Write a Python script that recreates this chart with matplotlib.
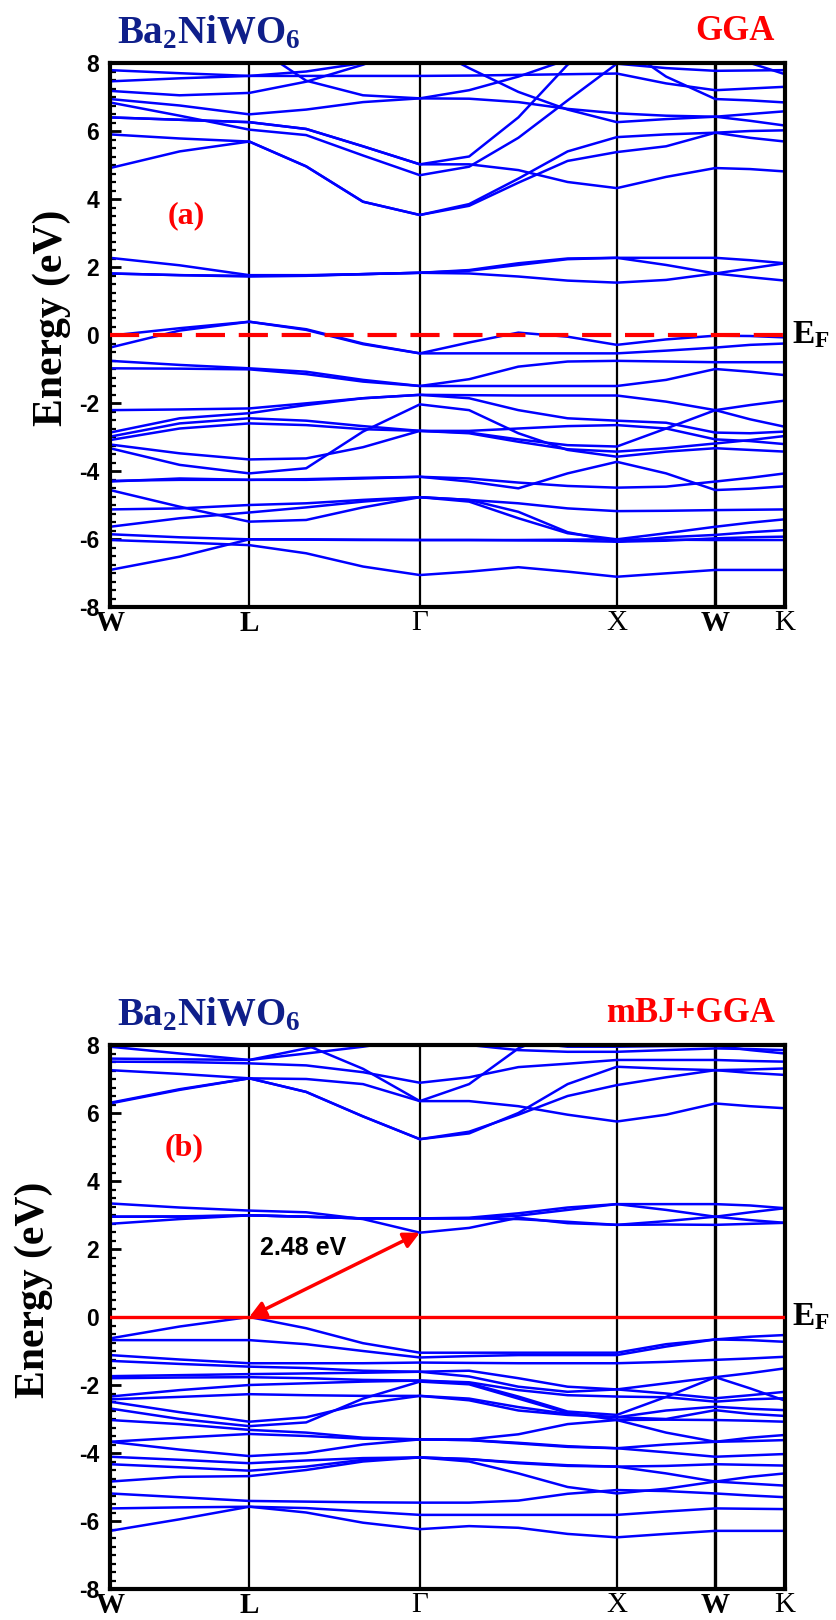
import matplotlib
matplotlib.use('Agg')
import matplotlib.pyplot as plt
from matplotlib.ticker import MultipleLocator

plt.rcParams['mathtext.fontset'] = 'custom'
plt.rcParams['mathtext.rm'] = 'Liberation Serif'
plt.rcParams['mathtext.it'] = 'Liberation Serif:italic'
plt.rcParams['mathtext.bf'] = 'Liberation Serif:bold'
plt.rcParams['axes.unicode_minus'] = False

# fcc path W - L - G - X - W - K, in units of 2pi/a
k_ticks = [0.0, 0.7071, 1.5731, 2.5731, 3.0731, 3.4267]
k_labels = ['W', 'L', 'Γ', 'X', 'W', 'K']
k_bold = [True, True, False, False, True, False]
# points along the path where the energies were sampled
k_nodes = [0.0, 0.3536, 0.7071, 0.9958, 1.2844, 1.5731, 1.8231, 2.0731,
           2.3231, 2.5731, 2.8231, 3.0731, 3.2499, 3.4267]

# ---- GGA bands (eV) ----
gga_vb = [
    [-0.02, 0.20, 0.39, 0.17, -0.25, -0.54, -0.22, 0.07, -0.05, -0.29, -0.13, -0.02, -0.03, -0.07],
    [-0.37, 0.13, 0.39, 0.15, -0.27, -0.54, -0.54, -0.54, -0.54, -0.54, -0.46, -0.37, -0.29, -0.25],
    [-0.76, -0.88, -0.98, -1.08, -1.32, -1.50, -1.30, -0.93, -0.78, -0.76, -0.78, -0.80, -0.80, -0.80],
    [-0.98, -0.99, -1.01, -1.15, -1.37, -1.50, -1.50, -1.50, -1.50, -1.50, -1.32, -1.00, -1.08, -1.18],
    [-2.21, -2.19, -2.16, -2.01, -1.86, -1.76, -1.77, -1.78, -1.78, -1.78, -1.96, -2.21, -2.48, -2.70],
    [-2.87, -2.45, -2.30, -2.06, -1.86, -1.76, -1.86, -2.21, -2.45, -2.52, -2.58, -2.87, -2.89, -2.84],
    [-2.99, -2.60, -2.45, -2.52, -2.68, -2.82, -2.82, -2.75, -2.68, -2.65, -2.75, -3.07, -3.12, -3.21],
    [-3.09, -2.75, -2.60, -2.65, -2.77, -2.82, -2.87, -3.07, -3.24, -3.28, -2.75, -2.21, -2.06, -1.93],
    [-3.22, -3.48, -3.66, -3.63, -3.30, -2.82, -2.89, -3.14, -3.36, -3.43, -3.33, -3.19, -3.09, -2.97],
    [-3.33, -3.82, -4.07, -3.92, -2.84, -2.04, -2.21, -2.89, -3.38, -3.58, -3.43, -3.33, -3.38, -3.43],
    [-4.29, -4.26, -4.26, -4.24, -4.20, -4.17, -4.22, -4.34, -4.44, -4.49, -4.46, -4.31, -4.20, -4.07],
    [-4.31, -4.22, -4.26, -4.26, -4.22, -4.17, -4.31, -4.51, -4.07, -3.73, -4.07, -4.56, -4.52, -4.45],
    [-4.56, -5.05, -5.49, -5.44, -5.07, -4.77, -4.85, -4.95, -5.10, -5.18, -5.17, -5.15, -5.14, -5.13],
    [-5.13, -5.10, -5.00, -4.95, -4.85, -4.77, -4.90, -5.39, -5.83, -6.01, -5.83, -5.64, -5.52, -5.42],
    [-5.64, -5.39, -5.22, -5.07, -4.90, -4.77, -4.85, -5.20, -5.80, -6.08, -5.95, -5.88, -5.80, -5.74],
    [-5.86, -5.95, -6.01, -6.01, -6.02, -6.03, -6.03, -6.03, -6.02, -6.01, -6.02, -6.03, -6.03, -6.03],
    [-6.91, -6.52, -6.01, -6.02, -6.03, -6.03, -6.03, -6.04, -6.05, -6.08, -6.05, -5.98, -5.95, -5.93],
    [-6.03, -6.10, -6.18, -6.42, -6.81, -7.06, -6.96, -6.83, -6.96, -7.11, -7.01, -6.91, -6.91, -6.91],
]
gga_cb_low = [
    [2.27, 2.05, 1.76, 1.76, 1.79, 1.83, 1.91, 2.11, 2.25, 2.27, 2.27, 2.27, 2.20, 2.11],
    [1.81, 1.76, 1.72, 1.74, 1.79, 1.83, 1.81, 1.72, 1.60, 1.54, 1.62, 1.81, 1.96, 2.11],
    [1.81, 1.76, 1.74, 1.75, 1.79, 1.83, 1.89, 2.06, 2.23, 2.27, 2.06, 1.81, 1.70, 1.60],
]
gga_cb_high = [
    [4.91, 5.40, 5.69, 4.96, 3.92, 3.53, 3.80, 4.48, 5.12, 5.38, 5.55, 5.95, 5.80, 5.69],
    [5.90, 5.78, 5.69, 4.96, 3.92, 3.53, 3.85, 4.60, 5.40, 5.82, 5.90, 5.95, 6.00, 6.02],
    [6.40, 6.33, 6.26, 6.06, 5.55, 5.02, 5.02, 4.85, 4.50, 4.32, 4.65, 4.91, 4.88, 4.81],
    [6.84, 6.45, 6.04, 5.88, 5.28, 4.70, 4.95, 5.80, 6.90, 7.98, 7.85, 7.77, 7.78, 7.79],
    [6.94, 6.75, 6.49, 6.63, 6.85, 6.96, 6.95, 6.85, 6.65, 6.52, 6.45, 6.42, 6.50, 6.58],
    [7.18, 7.05, 7.12, 7.45, 7.95, 8.60, 7.85, 7.15, 6.63, 6.26, 6.35, 6.42, 6.30, 6.16],
    [7.46, 7.55, 7.62, 7.62, 7.62, 7.62, 7.63, 7.65, 7.67, 7.69, 7.40, 7.20, 7.25, 7.30],
    [7.79, 7.70, 7.62, 7.75, 8.00, 8.20, 8.30, 8.50, 8.70, 8.80, 8.50, 8.20, 8.00, 7.67],
    [8.30, 8.50, 8.60, 7.48, 7.05, 6.96, 7.20, 7.60, 8.10, 8.60, 7.60, 6.94, 6.90, 6.84],
    [6.40, 6.33, 6.26, 6.06, 5.55, 5.02, 5.25, 6.40, 7.95, 8.80, 8.60, 8.30, 8.20, 8.30],
]

# ---- mBJ+GGA bands (eV) ----
mbj_vb = [
    [-0.63, -0.28, 0.00, -0.33, -0.77, -1.05, -1.05, -1.05, -1.05, -1.05, -0.80, -0.66, -0.58, -0.53],
    [-0.68, -0.68, -0.68, -0.80, -1.00, -1.19, -1.15, -1.12, -1.12, -1.12, -0.87, -0.66, -0.68, -0.73],
    [-1.12, -1.25, -1.36, -1.36, -1.36, -1.34, -1.35, -1.36, -1.36, -1.36, -1.32, -1.26, -1.22, -1.17],
    [-1.29, -1.38, -1.46, -1.50, -1.58, -1.61, -1.58, -1.80, -2.05, -2.13, -1.95, -1.77, -1.65, -1.51],
    [-1.74, -1.71, -1.68, -1.66, -1.64, -1.61, -1.75, -2.05, -2.20, -2.13, -2.25, -2.39, -2.30, -2.20],
    [-1.80, -1.78, -1.77, -1.80, -1.85, -1.87, -1.95, -2.34, -2.78, -2.88, -2.35, -1.77, -2.10, -2.46],
    [-2.34, -2.15, -2.00, -1.95, -1.90, -1.87, -1.92, -2.15, -2.30, -2.34, -2.36, -2.49, -2.42, -2.39],
    [-2.42, -2.35, -2.27, -2.30, -2.32, -2.32, -2.45, -2.75, -2.88, -2.95, -2.75, -2.64, -2.70, -2.74],
    [-2.49, -2.80, -3.08, -2.95, -2.55, -2.32, -2.40, -2.65, -2.85, -2.95, -3.00, -2.74, -2.85, -2.91],
    [-2.69, -3.00, -3.21, -3.10, -2.40, -1.90, -1.98, -2.40, -2.82, -3.03, -3.40, -3.67, -3.65, -3.62],
    [-3.03, -3.15, -3.32, -3.40, -3.55, -3.60, -3.60, -3.45, -3.15, -3.03, -3.02, -3.03, -3.05, -3.08],
    [-3.67, -3.55, -3.44, -3.50, -3.58, -3.60, -3.62, -3.70, -3.80, -3.86, -3.75, -3.67, -3.55, -3.47],
    [-3.67, -3.90, -4.09, -4.00, -3.75, -3.60, -3.62, -3.72, -3.82, -3.86, -3.98, -4.11, -4.07, -4.03],
    [-4.11, -4.20, -4.30, -4.22, -4.15, -4.13, -4.18, -4.30, -4.38, -4.40, -4.38, -4.33, -4.35, -4.37],
    [-4.33, -4.42, -4.52, -4.40, -4.20, -4.13, -4.25, -4.60, -5.00, -5.19, -5.05, -4.84, -4.70, -4.60],
    [-4.84, -4.70, -4.68, -4.50, -4.25, -4.13, -4.18, -4.28, -4.36, -4.40, -4.60, -4.84, -4.90, -4.96],
    [-5.19, -5.30, -5.41, -5.43, -5.45, -5.46, -5.46, -5.40, -5.20, -5.09, -5.12, -5.19, -5.25, -5.30],
    [-5.63, -5.60, -5.58, -5.62, -5.72, -5.82, -5.82, -5.82, -5.82, -5.82, -5.72, -5.63, -5.64, -5.65],
    [-6.29, -5.95, -5.58, -5.75, -6.05, -6.24, -6.15, -6.20, -6.38, -6.48, -6.38, -6.29, -6.29, -6.29],
]
mbj_cb_low = [
    [3.34, 3.22, 3.13, 3.08, 2.88, 2.48, 2.62, 2.92, 2.76, 2.71, 2.72, 2.71, 2.74, 2.77],
    [2.95, 2.95, 2.99, 2.95, 2.90, 2.90, 2.92, 3.05, 3.22, 3.32, 3.32, 3.32, 3.28, 3.20],
    [2.74, 2.88, 2.99, 2.95, 2.90, 2.90, 2.90, 2.88, 2.80, 2.71, 2.82, 2.95, 3.08, 3.20],
    [2.95, 2.96, 2.99, 2.95, 2.90, 2.90, 2.90, 2.98, 3.15, 3.32, 3.15, 2.95, 2.85, 2.77],
]
mbj_cb_high = [
    [6.28, 6.68, 7.02, 6.62, 5.90, 5.23, 5.40, 6.00, 6.85, 7.36, 7.30, 7.26, 7.28, 7.31],
    [7.26, 7.15, 7.02, 7.00, 6.85, 6.35, 6.35, 6.20, 5.95, 5.75, 5.95, 6.28, 6.20, 6.14],
    [7.51, 7.50, 7.46, 7.40, 7.20, 6.89, 7.05, 7.35, 7.45, 7.56, 7.56, 7.56, 7.53, 7.51],
    [7.95, 7.75, 7.56, 7.75, 7.95, 8.20, 8.00, 7.85, 7.80, 7.80, 7.85, 7.90, 7.88, 7.85],
    [7.60, 7.58, 7.56, 7.90, 8.30, 8.60, 8.40, 8.10, 7.95, 7.95, 7.97, 7.98, 7.85, 7.75],
    [6.30, 6.70, 7.02, 6.62, 5.90, 5.23, 5.45, 5.95, 6.50, 6.82, 7.05, 7.26, 7.18, 7.12],
    [7.98, 8.20, 8.40, 8.00, 7.30, 6.35, 6.85, 7.90, 8.50, 8.80, 8.60, 8.30, 8.10, 8.00],
]
gap_mbj = 2.48

W, H = 836, 1620
fig = plt.figure(figsize=(W / 100, H / 100), dpi=100)


def fx(x):
    return x / W


def fy(y):
    return 1 - y / H


serif = 'Liberation Serif'
sans = 'Liberation Sans'
navy = '#0f1f8a'


def draw_panel(ax, band_sets):
    for bands in band_sets:
        for e in bands:
            ax.plot(k_nodes, e, color='#0000ff', lw=1.8, solid_joinstyle='round')
    for k in k_ticks[1:-1]:
        ax.axvline(k, color='black', lw=2.4 if k == k_ticks[4] else 1.6, zorder=1)
    ax.set_xlim(k_ticks[0], k_ticks[-1])
    ax.set_ylim(-8, 8)
    for s in ax.spines.values():
        s.set_linewidth(3)
    ax.yaxis.set_major_locator(MultipleLocator(2))
    ax.yaxis.set_minor_locator(MultipleLocator(0.25))
    ax.tick_params(axis='y', which='major', direction='in', length=8, width=2, pad=8,
                   labelsize=16.5)
    ax.tick_params(axis='y', which='minor', direction='in', length=4.5, width=1.6)
    for lab in ax.get_yticklabels():
        lab.set_fontfamily(sans)
        lab.set_fontweight('bold')
    ax.set_xticks(k_ticks)
    ax.set_xticklabels(k_labels)
    ax.tick_params(axis='x', length=0, pad=2)
    for lab, b in zip(ax.get_xticklabels(), k_bold):
        lab.set_fontfamily(serif)
        lab.set_fontsize(21)
        lab.set_fontweight('bold' if b else 'normal')


# panel (a): GGA
ax1 = fig.add_axes([fx(110), fy(607), 675 / W, 544 / H])
draw_panel(ax1, [gga_vb, gga_cb_low, gga_cb_high])
ax1.axhline(0, color='red', lw=3, dashes=(7, 3.3), zorder=3)
ax1.text(0.386, 3.5, '(a)', color='red', fontsize=23, fontweight='bold', family=serif,
         ha='center', va='center')

# panel (b): mBJ+GGA
ax2 = fig.add_axes([fx(110), fy(1589), 675 / W, 544 / H])
draw_panel(ax2, [mbj_vb, mbj_cb_low, mbj_cb_high])
ax2.axhline(0, color='red', lw=2.4, zorder=3)
ax2.annotate('', xy=(k_ticks[2], gap_mbj), xytext=(k_ticks[1], 0.0),
             arrowprops=dict(arrowstyle='<|-|>', color='red', lw=2.5, mutation_scale=24,
                             shrinkA=0, shrinkB=0), zorder=4)
ax2.text(0.98, 2.03, f'{gap_mbj:.2f} eV', fontsize=18, fontweight='bold', family=sans,
         ha='center', va='center')
ax2.text(0.376, 4.97, '(b)', color='red', fontsize=23, fontweight='bold', family=serif,
         ha='center', va='center')

# titles, method tags, Fermi level tags, axis labels
for ytop, tag, xlab in [(43, 'GGA', 52), (1025, 'mBJ+GGA', 34)]:
    fig.text(fx(117), fy(ytop), r'$\mathbf{Ba_2NiWO_6}$', color=navy, fontsize=28,
             ha='left', va='baseline')
    fig.text(fx(775), fy(ytop - 3), tag, color='red', fontsize=25, fontweight='bold',
             family=serif, ha='right', va='baseline')

fig.text(fx(792), fy(343), r'$\mathbf{E_F}$', fontsize=24, ha='left', va='baseline')
fig.text(fx(792), fy(1325), r'$\mathbf{E_F}$', fontsize=24, ha='left', va='baseline')
fig.text(fx(52), fy(318), 'Energy (eV)', rotation=90, fontsize=30, fontweight='bold',
         family=serif, ha='center', va='center')
fig.text(fx(34), fy(1290), 'Energy (eV)', rotation=90, fontsize=30, fontweight='bold',
         family=serif, ha='center', va='center')

fig.savefig('out.png', dpi=100)
